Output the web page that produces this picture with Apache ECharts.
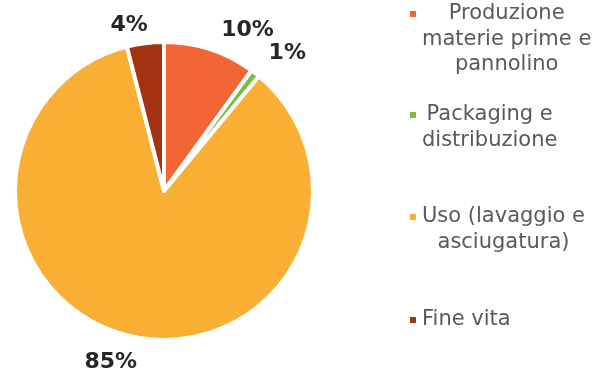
<!DOCTYPE html>
<html>
<head>
<meta charset="utf-8">
<script src="https://cdn.jsdelivr.net/npm/echarts@6/dist/echarts.min.js"></script>
<style>
  html, body { margin: 0; padding: 0; background: #fff; }
  #chart { width: 594px; height: 372px; }
</style>
</head>
<body>
<div id="chart"></div>
<script>
// Life-cycle phases and their share of the impact (%)
const phaseLines = [
  ['Produzione', 'materie prime e', 'pannolino'],
  ['Packaging e', 'distribuzione'],
  ['Uso (lavaggio e', 'asciugatura)'],
  ['Fine vita']
];
const phaseNames = phaseLines.map(l => l.join(' '));
const shares = [10, 1, 85, 4];
const colors = ['#F26535', '#78BE45', '#F9AE34', '#A4310F'];

const FONT = 'DejaVu Sans, Verdana, sans-serif';
const LH = 25.5;
const CX = 164, CY = 191;

// Legend: one block per phase, marker aligned with the first text line
const legendIconY = [14, 115, 217, 320];
function legendText(lines) {
  const pad = new Array(lines.length - 1).fill('{c| }');
  return pad.concat(lines.map(s => '{c|' + s + '}')).join('\n');
}
const legends = phaseNames.map((name, i) => {
  const n = phaseLines[i].length;
  const block = (2 * n - 1) * LH;
  return {
    orient: 'vertical',
    left: 408,
    top: legendIconY[i] - block / 2,
    padding: 0,
    itemWidth: 8,
    itemHeight: 8,
    icon: 'rect',
    selectedMode: false,
    data: [name],
    formatter: () => legendText(phaseLines[i]),
    textStyle: {
      color: '#595959',
      fontFamily: FONT,
      fontSize: 21,
      lineHeight: LH,
      rich: {
        c: { align: 'center', color: '#595959', fontFamily: FONT, fontSize: 21, lineHeight: LH }
      }
    }
  };
});

// small offsets that move each percentage label off its default outside spot
const labelNudge = [[0, 0], [-4, -4], [15, 6], [10, 2]];

const chart = echarts.init(document.getElementById('chart'), null, { renderer: 'canvas' });
chart.setOption({
  backgroundColor: '#ffffff',
  animation: false,
  legend: legends,
  series: [{
    type: 'pie',
    center: [CX, CY],
    radius: [0, 149],
    startAngle: 90,
    clockwise: true,
    avoidLabelOverlap: false,
    itemStyle: { borderColor: '#ffffff', borderWidth: 4 },
    label: {
      show: true,
      position: 'outside',
      formatter: p => p.value + '%',
      color: '#262626',
      fontFamily: FONT,
      fontWeight: 'bold',
      fontSize: 22
    },
    labelLine: { show: false, length: 20, length2: 0 },
    labelLayout: p => ({ dx: labelNudge[p.dataIndex][0], dy: labelNudge[p.dataIndex][1] }),
    emphasis: { disabled: true },
    data: phaseNames.map((name, i) => ({
      name: name,
      value: shares[i],
      itemStyle: { color: colors[i] }
    }))
  }]
});
</script>
</body>
</html>
